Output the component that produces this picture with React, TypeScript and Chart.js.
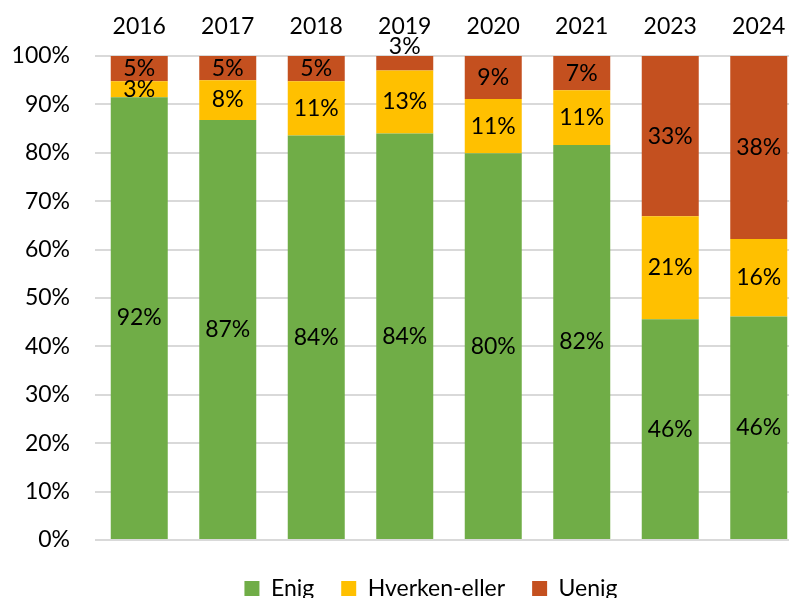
import React, { useEffect, useRef } from 'react';
import { Chart, registerables } from 'chart.js';

Chart.register(...registerables);

const years = ['2016', '2017', '2018', '2019', '2020', '2021', '2023', '2024'];
const enig = [91.5, 86.8, 83.6, 84.0, 79.9, 81.6, 45.6, 46.2];
const hverken = [3.3, 8.2, 11.2, 13.0, 11.2, 11.3, 21.3, 16.0];
const uenig = [5.2, 5.0, 5.2, 3.0, 8.9, 7.1, 33.1, 37.8];
const seriesNames = ['Enig', 'Hverken-eller', 'Uenig'];
const seriesColors = ['#70AD47', '#FFC000', '#C4501F'];

const W = 862;
const H = 610;
const PLOT_RIGHT = 803;
const FS = 23;
const FONT = 'Lato, "Open Sans", sans-serif';

const segLabels = {
  id: 'segLabels',
  afterDatasetsDraw(chart: any) {
    const ctx = chart.ctx;
    const last = chart.data.datasets.length - 1;
    ctx.save();
    ctx.font = `${FS}px ${FONT}`;
    ctx.fillStyle = '#000';
    ctx.textAlign = 'center';
    ctx.textBaseline = 'middle';
    chart.data.datasets.forEach((ds: any, di: number) => {
      const meta = chart.getDatasetMeta(di);
      meta.data.forEach((bar: any, i: number) => {
        const v = ds.data[i];
        const p = bar.getProps(['x', 'y', 'base'], true);
        const h = Math.abs(p.base - p.y);
        let ty = (p.y + p.base) / 2;
        if (di === last && h < 16) ty = p.y - 9;
        ctx.fillText(Math.round(v) + '%', p.x, ty);
      });
    });
    ctx.restore();
  },
};

export default function App() {
  const ref = useRef<HTMLCanvasElement | null>(null);
  useEffect(() => {
    let chart: Chart | null = null;
    let cancelled = false;
    const make = () => {
      if (cancelled || !ref.current) return;
      Chart.defaults.font.family = FONT;
      chart = new Chart(ref.current, {
        type: 'bar',
        data: {
          labels: years,
          datasets: [enig, hverken, uenig].map((d, i) => ({
            label: seriesNames[i],
            data: d,
            backgroundColor: seriesColors[i],
            borderWidth: 0,
            categoryPercentage: 1,
            barPercentage: 0.644,
          })),
        },
        options: {
          responsive: false,
          animation: false,
          layout: { padding: 0 },
          scales: {
            x: {
              position: 'top',
              stacked: true,
              grid: { display: false, drawTicks: false },
              border: { display: false },
              ticks: { color: '#000', font: { size: FS }, padding: 16 },
              afterFit: (s: any) => { s.height = 56; },
            },
            y: {
              stacked: true,
              min: 0,
              max: 100,
              grid: { color: '#d9d9d9', lineWidth: 2, drawTicks: false },
              border: { display: false },
              ticks: {
                stepSize: 10,
                color: '#000',
                font: { size: FS },
                padding: 25,
                callback: (v: any) => v + '%',
              },
              afterFit: (s: any) => { s.width = 95; },
            },
            y2: {
              position: 'right',
              grid: { display: false, drawTicks: false },
              border: { display: false },
              ticks: { display: false },
              afterFit: (s: any) => { s.width = W - PLOT_RIGHT; },
            },
          },
          plugins: {
            legend: {
              position: 'bottom',
              title: { display: true, text: ' ', font: { size: 8, lineHeight: 1 }, padding: { top: 1, bottom: 1 } },
              labels: {
                boxWidth: 15,
                boxHeight: 15,
                padding: 27,
                color: '#000',
                font: { size: FS },
              },
            },
            tooltip: { enabled: false },
          },
        },
        plugins: [segLabels],
      });
    };
    const fontsAny: any = (document as any).fonts;
    if (fontsAny && fontsAny.load) {
      fontsAny.load(`${FS}px Lato`).then(make, make);
    } else {
      make();
    }
    return () => {
      cancelled = true;
      if (chart) chart.destroy();
    };
  }, []);
  return (
    <div style={{ position: 'fixed', left: 0, top: 0, width: 789, height: 598, overflow: 'hidden', background: '#fff' }}>
      <canvas ref={ref} width={W} height={H} style={{ width: W, height: H, display: 'block' }} />
    </div>
  );
}
